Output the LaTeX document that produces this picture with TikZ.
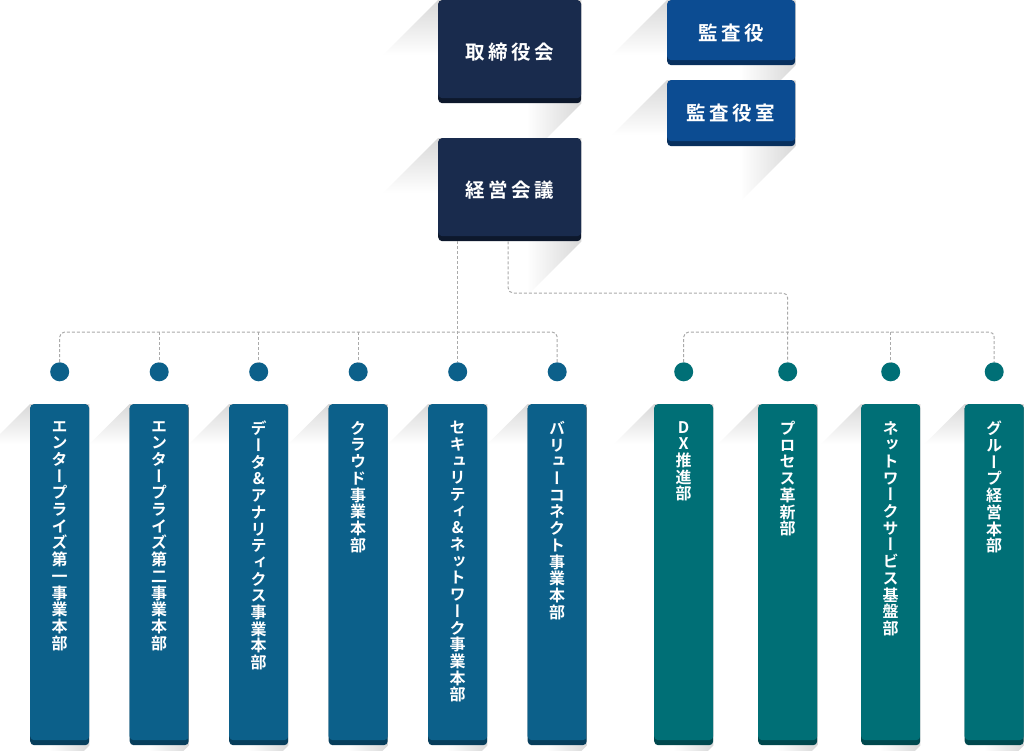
\documentclass[tikz,border=0pt]{standalone}
\usepackage{fontspec}
\newfontfamily\jp{Noto Sans CJK JP}[BoldFont=* Bold]
\newfontfamily\jptate{Noto Sans CJK JP}[BoldFont=* Bold, RawFeature=+vert]
\usetikzlibrary{positioning,backgrounds}

\definecolor{cboard}{RGB}{25,43,77}
\definecolor{cboardedge}{RGB}{13,24,44}
\definecolor{caudit}{RGB}{12,76,146}
\definecolor{cauditedge}{RGB}{8,48,94}
\definecolor{cunit}{RGB}{12,96,138}
\definecolor{cunitedge}{RGB}{7,62,92}
\definecolor{cteal}{RGB}{0,111,118}
\definecolor{ctealedge}{RGB}{0,72,78}
\definecolor{clink}{RGB}{170,170,170}
\definecolor{cshade}{RGB}{216,216,216}

% one character per line, for the unit names
\newcommand\tate[1]{\vbox{\baselineskip=16.7pt\tatenext#1\relax}}
\def\tatenext#1{\ifx\relax#1\else\hbox to 17pt{\hss#1\hss}\expandafter\tatenext\fi}

\begin{document}
\begin{tikzpicture}[x=1pt, y=-1pt,
  orgbox/.style={rounded corners=4pt, inner sep=0pt, anchor=north west, text=white, fill=#1edge,
    path picture={\fill[#1] (path picture bounding box.north west) rectangle ([yshift=5pt]path picture bounding box.south east);}},
  toplabel/.style={font=\jp\bfseries\fontsize{19.5}{20}\selectfont\addfontfeature{LetterSpace=18}},
  unit/.style={orgbox=#1, minimum width=59pt, minimum height=341pt},
  tatelabel/.style={inner sep=0pt, text=white, font=\jptate\bfseries\fontsize{16}{16.7}\selectfont},
  dot/.style={circle, fill=#1, minimum size=19pt, inner sep=0pt},
  link/.style={draw=clink, line width=1pt, dash pattern=on 3pt off 2pt, rounded corners=5pt}]
\useasboundingbox (0,0) rectangle (1024,750);

\node[orgbox=cboard, toplabel, minimum width=143pt, minimum height=103pt] (board) at (438,0) {取締役会};
\node[orgbox=caudit, toplabel, minimum width=128pt, minimum height=65pt] (audit) at (667,0) {監査役};
\node[orgbox=caudit, toplabel, minimum width=128pt, minimum height=66pt] (auditoffice) at (667,80) {監査役室};
\node[orgbox=cboard, toplabel, minimum width=143pt, minimum height=103pt] (mgmt) at (438,138) {経営会議};

\node[unit=cunit] (col1) at (30,404) {};
\node[unit=cunit] (col2) at (129.5,404) {};
\node[unit=cunit] (col3) at (229,404) {};
\node[unit=cunit] (col4) at (328.5,404) {};
\node[unit=cunit] (col5) at (428,404) {};
\node[unit=cunit] (col6) at (527.5,404) {};
\node[unit=cteal] (col7) at (654,404) {};
\node[unit=cteal] (col8) at (758,404) {};
\node[unit=cteal] (col9) at (861,404) {};
\node[unit=cteal] (col10) at (964.5,404) {};

\node[tatelabel, below=17pt of col1.north] (lab1) {\tate{エンタープライズ第一事業本部}};
\node[tatelabel, below=17pt of col2.north] (lab2) {\tate{エンタープライズ第二事業本部}};
\node[tatelabel, below=17pt of col3.north] (lab3) {\tate{データ\&アナリティクス事業本部}};
\node[tatelabel, below=17pt of col4.north] (lab4) {\tate{クラウド事業本部}};
\node[tatelabel, below=17pt of col5.north] (lab5) {\tate{セキュリティ\&ネットワーク事業本部}};
\node[tatelabel, below=17pt of col6.north] (lab6) {\tate{バリューコネクト事業本部}};
\node[tatelabel, below=17pt of col7.north] (lab7) {\tate{DX推進部}};
\node[tatelabel, below=17pt of col8.north] (lab8) {\tate{プロセス革新部}};
\node[tatelabel, below=17pt of col9.north] (lab9) {\tate{ネットワークサービス基盤部}};
\node[tatelabel, below=17pt of col10.north] (lab10) {\tate{グループ経営本部}};

\foreach \i in {1,...,6}
  \node[dot=cunit, above=22.5pt of col\i] (dot\i) {};
\foreach \i in {7,...,10}
  \node[dot=cteal, above=22.5pt of col\i] (dot\i) {};

\coordinate (bus) at (0,332);
\coordinate (turn) at (0,293);
\draw[link] (dot1.north) -- (dot1 |- bus) -- (dot6 |- bus) -- (dot6.north);
\foreach \i in {2,3,4}
  \draw[link] (dot\i |- bus) -- (dot\i.north);
\draw[link] (mgmt.south -| dot5) -- (dot5.north);
\draw[link] (dot7.north) -- (dot7 |- bus) -- (dot10 |- bus) -- (dot10.north);
\draw[link] (dot9 |- bus) -- (dot9.north);
\draw[link] ([xshift=-1.5pt]mgmt.south) -- ([xshift=-1.5pt]mgmt.south |- turn) -- (dot8 |- turn) -- (dot8.north);

\begin{scope}[on background layer]
\fill[white] (0,0) rectangle (1024,750);
\foreach \n/\d in {board/55, audit/55, auditoffice/55, mgmt/55, col1/40, col2/40, col3/40, col4/40,
    col5/40, col6/40, col7/40, col8/40, col9/40, col10/40}{
  \shade[top color=cshade, bottom color=white] (\n.north west) -- (\n.north east) -- ++(-\d pt,-\d pt)
    -- ([shift={(-\d pt,-\d pt)}]\n.north west) -- cycle;
  \shade[left color=white, right color=cshade] (\n.north east) -- (\n.south east) -- ++(-\d pt,-\d pt)
    -- ([shift={(-\d pt,-\d pt)}]\n.north east) -- cycle;
}
\end{scope}
\end{tikzpicture}
\end{document}
